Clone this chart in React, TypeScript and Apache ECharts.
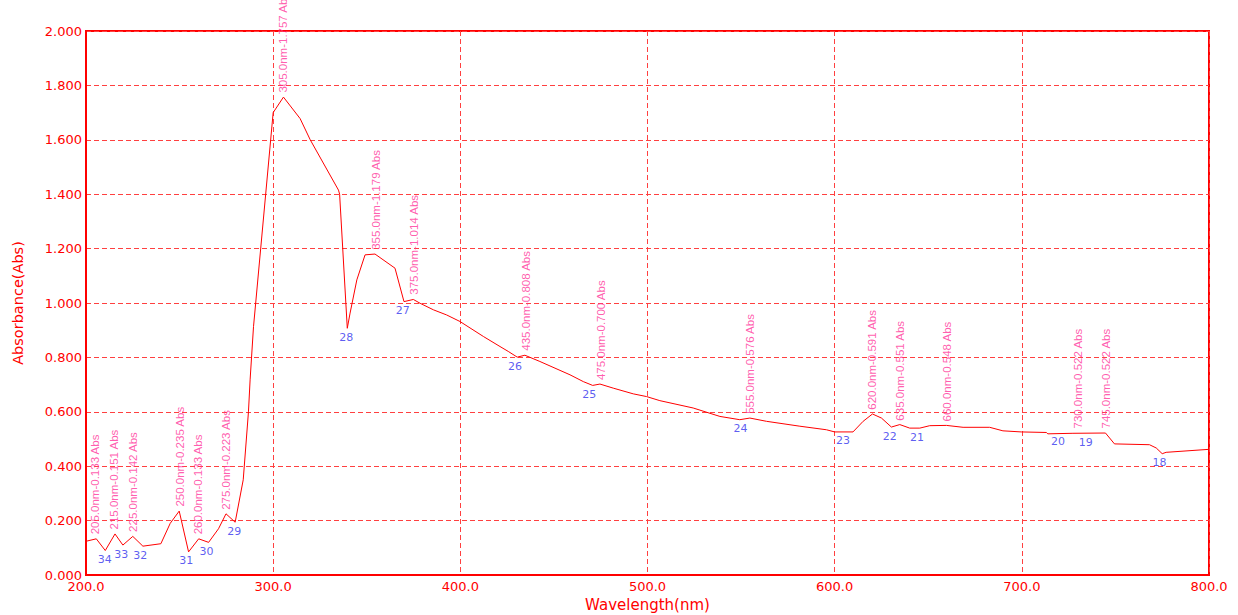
import React, { useEffect, useRef } from "react";
import * as echarts from "echarts";

// Spectrum trace: wavelength (nm) and absorbance (Abs)
const wavelengths = [
  200, 205.5, 210.3, 215.5, 219.7, 225, 230.4, 240, 245, 249.8, 254.8, 260.2, 265.5, 270.8, 274.8, 279.7,
  284, 286.8, 287.7, 289.5, 300, 305.5, 314.4, 319.8, 334.9, 335.5, 339.6, 341.1, 344.7, 349.1, 354.4,
  365.1, 369.9, 374.9, 378.5, 385.6, 392.7, 399.8, 412.3, 421.2, 425.6, 430.4, 434.5, 442.5, 458.6,
  465.7, 470.7, 474.6, 481.7, 492.4, 499.5, 506.6, 524.4, 538.7, 549.3, 554.7, 563.6, 581.4, 595.6,
  600, 609.8, 615.2, 620.2, 625, 630.3, 634.8, 640.1, 645.5, 650.8, 659.7, 668.6, 682.8, 689.9, 699.7,
  713.1, 713.9, 727.3, 744.7, 749.5, 768.2, 771.8, 775, 777.1, 800,
];
const absorbance = [
  0.124, 0.133, 0.09, 0.151, 0.11, 0.142, 0.106, 0.115, 0.19, 0.235, 0.085, 0.133, 0.12, 0.17, 0.225, 0.194,
  0.35, 0.6, 0.72, 0.913, 1.7, 1.757, 1.678, 1.6, 1.415, 1.4, 0.907, 0.963, 1.085, 1.177, 1.18,
  1.128, 1.005, 1.013, 0.999, 0.975, 0.956, 0.932, 0.877, 0.84, 0.822, 0.801, 0.808, 0.785, 0.736,
  0.711, 0.697, 0.702, 0.687, 0.666, 0.656, 0.641, 0.614, 0.583, 0.571, 0.577, 0.565, 0.547, 0.534,
  0.526, 0.526, 0.565, 0.592, 0.577, 0.544, 0.553, 0.54, 0.54, 0.549, 0.55, 0.543, 0.543, 0.53, 0.526,
  0.524, 0.519, 0.521, 0.522, 0.482, 0.479, 0.467, 0.446, 0.451, 0.462,
];

// Peak picks
const peakWl = [205, 215, 225, 250, 260, 275, 305, 355, 375, 435, 475, 555, 620, 635, 660, 730, 745];
const peakAbs = [0.133, 0.151, 0.142, 0.235, 0.133, 0.223, 1.757, 1.179, 1.014, 0.808, 0.7, 0.576, 0.591, 0.551, 0.548, 0.522, 0.522];

// Valley picks
const valleyNum = [34, 33, 32, 31, 30, 29, 28, 27, 26, 25, 24, 23, 22, 21, 20, 19, 18];
const valleyWl = [210, 218.8, 229, 253.5, 264.4, 279.2, 339, 369.2, 429.2, 468.9, 549.7, 604.5, 629.4, 644, 719.3, 734.1, 773.6];
const valleyAbs = [0.09, 0.11, 0.106, 0.085, 0.12, 0.194, 0.907, 1.005, 0.801, 0.697, 0.571, 0.526, 0.544, 0.54, 0.524, 0.522, 0.446];

const FONT = "DejaVu Sans";
const LABEL_FONT = "Liberation Sans";
const RED = "#ff0000";
const GRID_RED = "#ff4040";

export default function App() {
  const ref = useRef<HTMLDivElement>(null);
  useEffect(() => {
    if (!ref.current) return;
    const chart = echarts.init(ref.current, null, { renderer: "svg" });
    chart.setOption({
      animation: false,
      backgroundColor: "#ffffff",
      grid: {
        left: 86,
        right: 29,
        top: 31,
        bottom: 40,
        show: true,
        borderColor: RED,
        borderWidth: 2,
        containLabel: false,
        outerBoundsMode: "none",
      },
      xAxis: {
        type: "value",
        min: 200,
        max: 800,
        interval: 100,
        name: "Wavelength(nm)",
        nameLocation: "middle",
        nameGap: 20,
        nameTextStyle: { color: RED, fontFamily: FONT, fontSize: 15 },
        axisLine: { show: true, lineStyle: { color: RED, width: 2 } },
        axisTick: { show: false },
        axisLabel: {
          color: RED,
          fontFamily: FONT,
          fontSize: 13,
          lineHeight: 11,
          margin: 6,
          formatter: (v: number) => v.toFixed(1),
        },
        splitLine: { show: true, lineStyle: { color: GRID_RED, width: 1, type: [5, 3] } },
      },
      yAxis: {
        type: "value",
        min: 0,
        max: 2,
        interval: 0.2,
        name: "Absorbance(Abs)",
        nameLocation: "middle",
        nameGap: 61,
        nameTextStyle: { color: RED, fontFamily: FONT, fontSize: 14.5 },
        axisLine: { show: true, lineStyle: { color: RED, width: 2 } },
        axisTick: { show: false },
        axisLabel: {
          color: RED,
          fontFamily: FONT,
          fontSize: 13,
          lineHeight: 10,
          margin: 4,
          formatter: (v: number) => v.toFixed(3),
        },
        splitLine: { show: true, lineStyle: { color: GRID_RED, width: 1, type: [5, 3] } },
      },
      series: [
        {
          type: "line",
          data: wavelengths.map((w, i) => [w, absorbance[i]]),
          showSymbol: false,
          symbol: "none",
          lineStyle: { color: RED, width: 1 },
          silent: true,
        },
        {
          type: "scatter",
          data: peakWl.map((w, i) => [w, peakAbs[i]]),
          symbolSize: 1,
          itemStyle: { color: "rgba(0,0,0,0)" },
          silent: true,
          label: {
            show: true,
            position: "top",
            distance: 4,
            rotate: 90,
            align: "left",
            verticalAlign: "middle",
            color: "#ff3399",
            fontFamily: LABEL_FONT,
            fontSize: 11.5,
            formatter: (p: any) => `${p.value[0].toFixed(1)}nm-${p.value[1].toFixed(3)} Abs`,
          },
        },
        {
          type: "scatter",
          data: valleyWl.map((w, i) => [w, valleyAbs[i]]),
          symbolSize: 1,
          itemStyle: { color: "rgba(0,0,0,0)" },
          silent: true,
          label: {
            show: true,
            position: "bottom",
            distance: 3,
            color: "#3333ee",
            fontFamily: FONT,
            fontSize: 11,
            formatter: (p: any) => String(valleyNum[p.dataIndex]),
          },
        },
      ],
    });
    return () => chart.dispose();
  }, []);
  return (
    <div
      ref={ref}
      style={{ position: "absolute", left: 0, top: 0, width: 1238, height: 615, background: "#fff" }}
    />
  );
}
